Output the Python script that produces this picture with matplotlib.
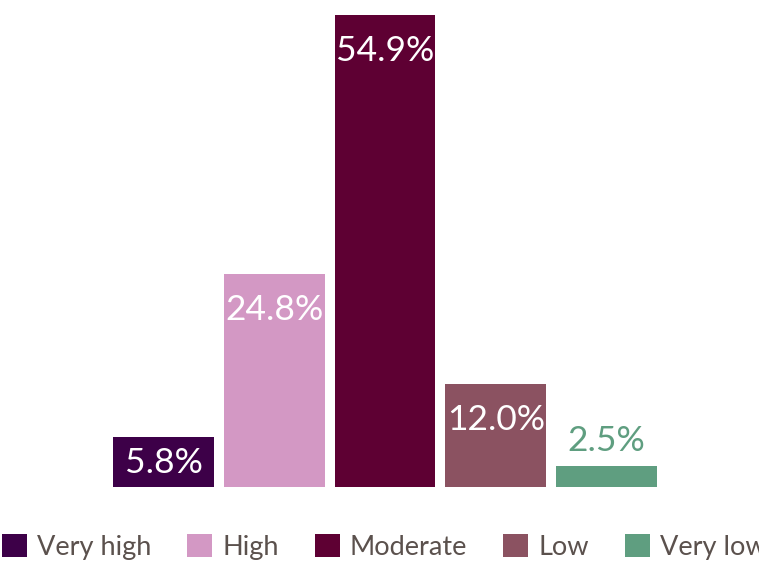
import matplotlib
matplotlib.use("Agg")
import matplotlib.pyplot as plt
from matplotlib.patches import Patch

categories = ["Very high", "High", "Moderate", "Low", "Very low"]
values = [5.8, 24.8, 54.9, 12.0, 2.5]
labels = ["5.8%", "24.8%", "54.9%", "12.0%", "2.5%"]
colors = ["#3d0048", "#d398c4", "#5e0033", "#8b5261", "#5f9e80"]

W, H = 759, 568
fig = plt.figure(figsize=(W / 100, H / 100), dpi=100)
plt.rcParams['font.family'] = ['Lato', 'DejaVu Sans']

# axes placement in pixels
bottom_px = H - 487
top_px = H - 15
ax = fig.add_axes([0, bottom_px / H, 1, (top_px - bottom_px) / H])
x = list(range(len(categories)))
ax.bar(x, values, width=0.91, color=colors)
c0, step = 163.5, 110.75
ax.set_xlim(-c0 / step, (W - c0) / step)
ax.set_ylim(0, max(values))
ax.axis("off")

lfs = 25.5
for xi, v, lab, col in zip(x, values, labels, colors):
    if v > 10:
        ax.annotate(lab, (xi, v), xytext=(0, -26), textcoords="offset points",
                    ha="center", va="center", color="white", fontsize=lfs)
    elif v > 5:
        ax.annotate(lab, (xi, v / 2), xytext=(0, -1), textcoords="offset points",
                    ha="center", va="center", color="white", fontsize=lfs)
    else:
        ax.annotate(lab, (xi, v), xytext=(0, 18), textcoords="offset points",
                    ha="center", va="center", color=col, fontsize=lfs)

handles = [Patch(facecolor=c, edgecolor="none") for c in colors]
fs = 19.5
em = fs / 0.72
leg = fig.legend(handles, categories, loc="lower left",
                 bbox_to_anchor=(2 / W, (H - 560) / H), ncol=5, frameon=False,
                 fontsize=fs, handlelength=25 / em, handleheight=25 / em,
                 handletextpad=10 / em, columnspacing=36 / em,
                 borderpad=0, borderaxespad=0)
for t in leg.get_texts():
    t.set_color("#5b514d")

fig.savefig("out.png", dpi=100)
